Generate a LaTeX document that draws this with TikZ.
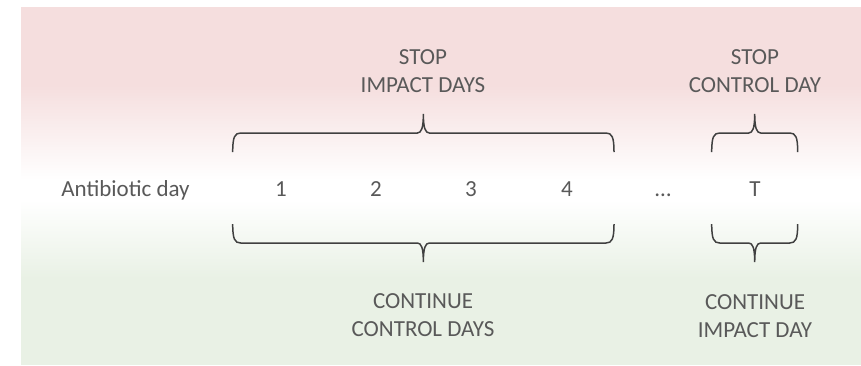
\documentclass[tikz,border=0pt]{standalone}
\usepackage{xcolor}
\usepackage{fontspec}
\setmainfont{Carlito}
\usepackage{tikz}
\definecolor{stoppink}{RGB}{245,222,222}
\definecolor{contgreen}{RGB}{233,241,229}
\definecolor{textgray}{RGB}{89,89,89}
\definecolor{bracegray}{RGB}{64,64,64}
% #1 left x, #2 right x, #3 y of the ends, #4 direction (-1 up, 1 down)
\newcommand{\daybrace}[4]{%
  \pgfmathsetmacro{\bmid}{(#1+#2)/2}%
  \pgfmathsetmacro{\bline}{#3+19*(#4)}%
  \pgfmathsetmacro{\btip}{#3+38*(#4)}%
  \draw[bracegray, line width=1.5pt]
    (#1,#3) .. controls +(0,{15*(#4)}) and +(-6,0) .. (#1+8,\bline)
    -- (\bmid-6,\bline) .. controls +(4,0) and +(0,{-14*(#4)}) .. (\bmid,\btip)
    .. controls +(0,{-14*(#4)}) and +(-4,0) .. (\bmid+6,\bline)
    -- (#2-8,\bline) .. controls +(6,0) and +(0,{15*(#4)}) .. (#2,#3);}

\begin{document}
\begin{tikzpicture}[x=1pt,y=-1pt]
        \useasboundingbox (0,0) rectangle (861,365);
        % background
        \fill[stoppink] (21,7) rectangle (861,85);
        \shade[top color=stoppink, bottom color=white] (21,85) rectangle (861,180);
        \fill[white] (21,180) rectangle (861,200);
        \shade[top color=white, bottom color=contgreen] (21,200) rectangle (861,278);
        \fill[contgreen] (21,278) rectangle (861,365);
        \tikzstyle{every node}=[text=textgray, font=\fontsize{23}{27.5}\selectfont,
                                align=center, anchor=base, inner sep=0pt]
        \node (antibiotic) at (125.5,196) {Antibiotic day};
        \node (day1)       at (281,196)   {1};
        \node (day2)       at (376,196)   {2};
        \node (day3)       at (471,196)   {3};
        \node (day4)       at (567,196)   {4};
        \node (dots)       at (663,196)   {…};
        \node (dayT)       at (755,196)   {T};
        % base is the last line
        \node (stopimpact)  at (423,92)   {STOP\\IMPACT DAYS};
        \node (stopcontrol) at (755,92)   {STOP\\CONTROL DAY};
        \node (contcontrol) at (423,336)  {CONTINUE\\CONTROL DAYS};
        \node (contimpact)  at (755,337)  {CONTINUE\\IMPACT DAY};
        \daybrace{232.7}{614}{152}{-1}
        \daybrace{711.7}{797.7}{152}{-1}
        \daybrace{232.7}{614}{224}{1}
        \daybrace{711.7}{797.7}{224}{1}
\end{tikzpicture}
\end{document}
